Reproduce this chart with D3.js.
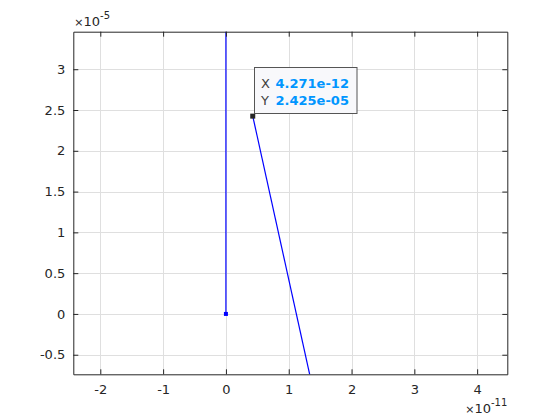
<!DOCTYPE html>
<html>
<head>
<meta charset="utf-8" />
<title>D3 Js</title>
<script src="https://d3js.org/d3.v7.min.js"></script>
<style>
body { margin: 0; background: #fff; }
text { font-family: "DejaVu Sans", sans-serif; }
</style>
</head>
<body>
<script>

// series: vertical jump at x = 0, then the descending segment
var seriesA_x = [0, 0];
var seriesA_y = [0, 1e-3];
var seriesB_x = [4.271e-12, 1.98e-11];
var seriesB_y = [2.425e-5, -3e-5];

var xTicks = [-2, -1, 0, 1, 2, 3, 4];
var yTicks = [-0.5, 0, 0.5, 1, 1.5, 2, 2.5, 3];
var xExp = -11, yExp = -5;

var tipX = "4.271e-12", tipY = "2.425e-05";

var W = 560, H = 420;
var mLeft = 73.3, mRight = 507.3, mTop = 31.7, mBottom = 374.3;

var svg = d3.select("body").append("svg")
	.attr("width", W)
	.attr("height", H);

var x = d3.scaleLinear().domain([-2.43e-11, 4.48e-11]).range([mLeft, mRight]);
var y = d3.scaleLinear().domain([-0.74e-5, 3.46e-5]).range([mBottom, mTop]);

function fmt(v, e) {
	return String(Math.round(v / Math.pow(10, e) * 100) / 100);
}

svg.append("defs").append("clipPath").attr("id", "clip")
	.append("rect")
	.attr("x", mLeft).attr("y", mTop)
	.attr("width", mRight - mLeft).attr("height", mBottom - mTop);

// grid
var grid = svg.append("g").attr("stroke", "#dfdfdf").attr("stroke-width", 1);
grid.selectAll(".gx").data(xTicks).enter().append("line")
	.attr("x1", function(d){ return Math.round(x(d * 1e-11)) + 0.5; })
	.attr("x2", function(d){ return Math.round(x(d * 1e-11)) + 0.5; })
	.attr("y1", mTop).attr("y2", mBottom);
grid.selectAll(".gy").data(yTicks).enter().append("line")
	.attr("y1", function(d){ return Math.round(y(d * 1e-5)) + 0.5; })
	.attr("y2", function(d){ return Math.round(y(d * 1e-5)) + 0.5; })
	.attr("x1", mLeft).attr("x2", mRight);

// data lines
var line = d3.line()
	.x(function(d){ return x(d[0]); })
	.y(function(d){ return y(d[1]); });

var plot = svg.append("g").attr("clip-path", "url(#clip)");
plot.append("path")
	.attr("d", line(d3.zip(seriesA_x, seriesA_y)))
	.attr("fill", "none").attr("stroke", "#0000ff").attr("stroke-width", 1.2);
plot.append("path")
	.attr("d", line(d3.zip(seriesB_x, seriesB_y)))
	.attr("fill", "none").attr("stroke", "#0000ff").attr("stroke-width", 1.2);

plot.append("rect")
	.attr("x", x(seriesA_x[0]) - 2).attr("y", y(seriesA_y[0]) - 2)
	.attr("width", 4).attr("height", 4)
	.attr("fill", "#0000ff");

// axes box with inward ticks on all sides
var axisColor = "#262626";
var axes = svg.append("g");

var xAxisB = d3.axisBottom(x).tickValues(xTicks.map(function(d){ return d * 1e-11; }))
	.tickSizeInner(-5).tickSizeOuter(0).tickPadding(10)
	.tickFormat(function(d){ return fmt(d, xExp); });
var xAxisT = d3.axisTop(x).tickValues(xTicks.map(function(d){ return d * 1e-11; }))
	.tickSizeInner(-5).tickSizeOuter(0).tickFormat("");
var yAxisL = d3.axisLeft(y).tickValues(yTicks.map(function(d){ return d * 1e-5; }))
	.tickSizeInner(-5).tickSizeOuter(0).tickPadding(8)
	.tickFormat(function(d){ return fmt(d, yExp); });
var yAxisR = d3.axisRight(y).tickValues(yTicks.map(function(d){ return d * 1e-5; }))
	.tickSizeInner(-5).tickSizeOuter(0).tickFormat("");

axes.append("g").attr("transform", "translate(0," + mBottom + ")").call(xAxisB);
axes.append("g").attr("transform", "translate(0," + mTop + ")").call(xAxisT);
axes.append("g").attr("transform", "translate(" + mLeft + ",0)").call(yAxisL);
axes.append("g").attr("transform", "translate(" + mRight + ",0)").call(yAxisR);

axes.selectAll("path.domain").attr("stroke", axisColor).attr("stroke-width", 1);
axes.selectAll(".tick line").attr("stroke", axisColor);
axes.selectAll(".tick text").attr("fill", axisColor)
	.style("font-family", "DejaVu Sans").style("font-size", "13px");

// exponent labels
function expLabel(xx, yy, exp, anchor) {
	var t = svg.append("text").attr("x", xx).attr("y", yy)
		.attr("fill", axisColor).attr("text-anchor", anchor);
	t.append("tspan").attr("font-size", "11px").text("\u00d7");
	t.append("tspan").attr("font-size", "13px").text("10");
	t.append("tspan").attr("font-size", "10px").attr("dy", -7).text(exp);
}
expLabel(mLeft + 1, 26, yExp, "start");
expLabel(mRight, 413, xExp, "end");

// datatip
var px = x(seriesB_x[0]), py = y(seriesB_y[0]);
svg.append("rect")
	.attr("x", px - 2.5).attr("y", py - 2.5)
	.attr("width", 5).attr("height", 5)
	.attr("fill", "#262626");

var tip = svg.append("g");
tip.append("rect")
	.attr("x", 254.5).attr("y", 67.5)
	.attr("width", 102.5).attr("height", 46)
	.attr("fill", "#f8f8fb").attr("stroke", "#555555").attr("stroke-width", 1);

[["X", tipX, 88], ["Y", tipY, 105]].forEach(function(r) {
	tip.append("text").attr("x", 261).attr("y", r[2])
		.attr("font-size", "13px").attr("fill", "#404040").text(r[0]);
	tip.append("text").attr("x", 275.5).attr("y", r[2])
		.attr("font-size", "13px").attr("font-weight", "bold")
		.attr("fill", "#0096ff").text(r[1]);
});

</script>
</body>
</html>
